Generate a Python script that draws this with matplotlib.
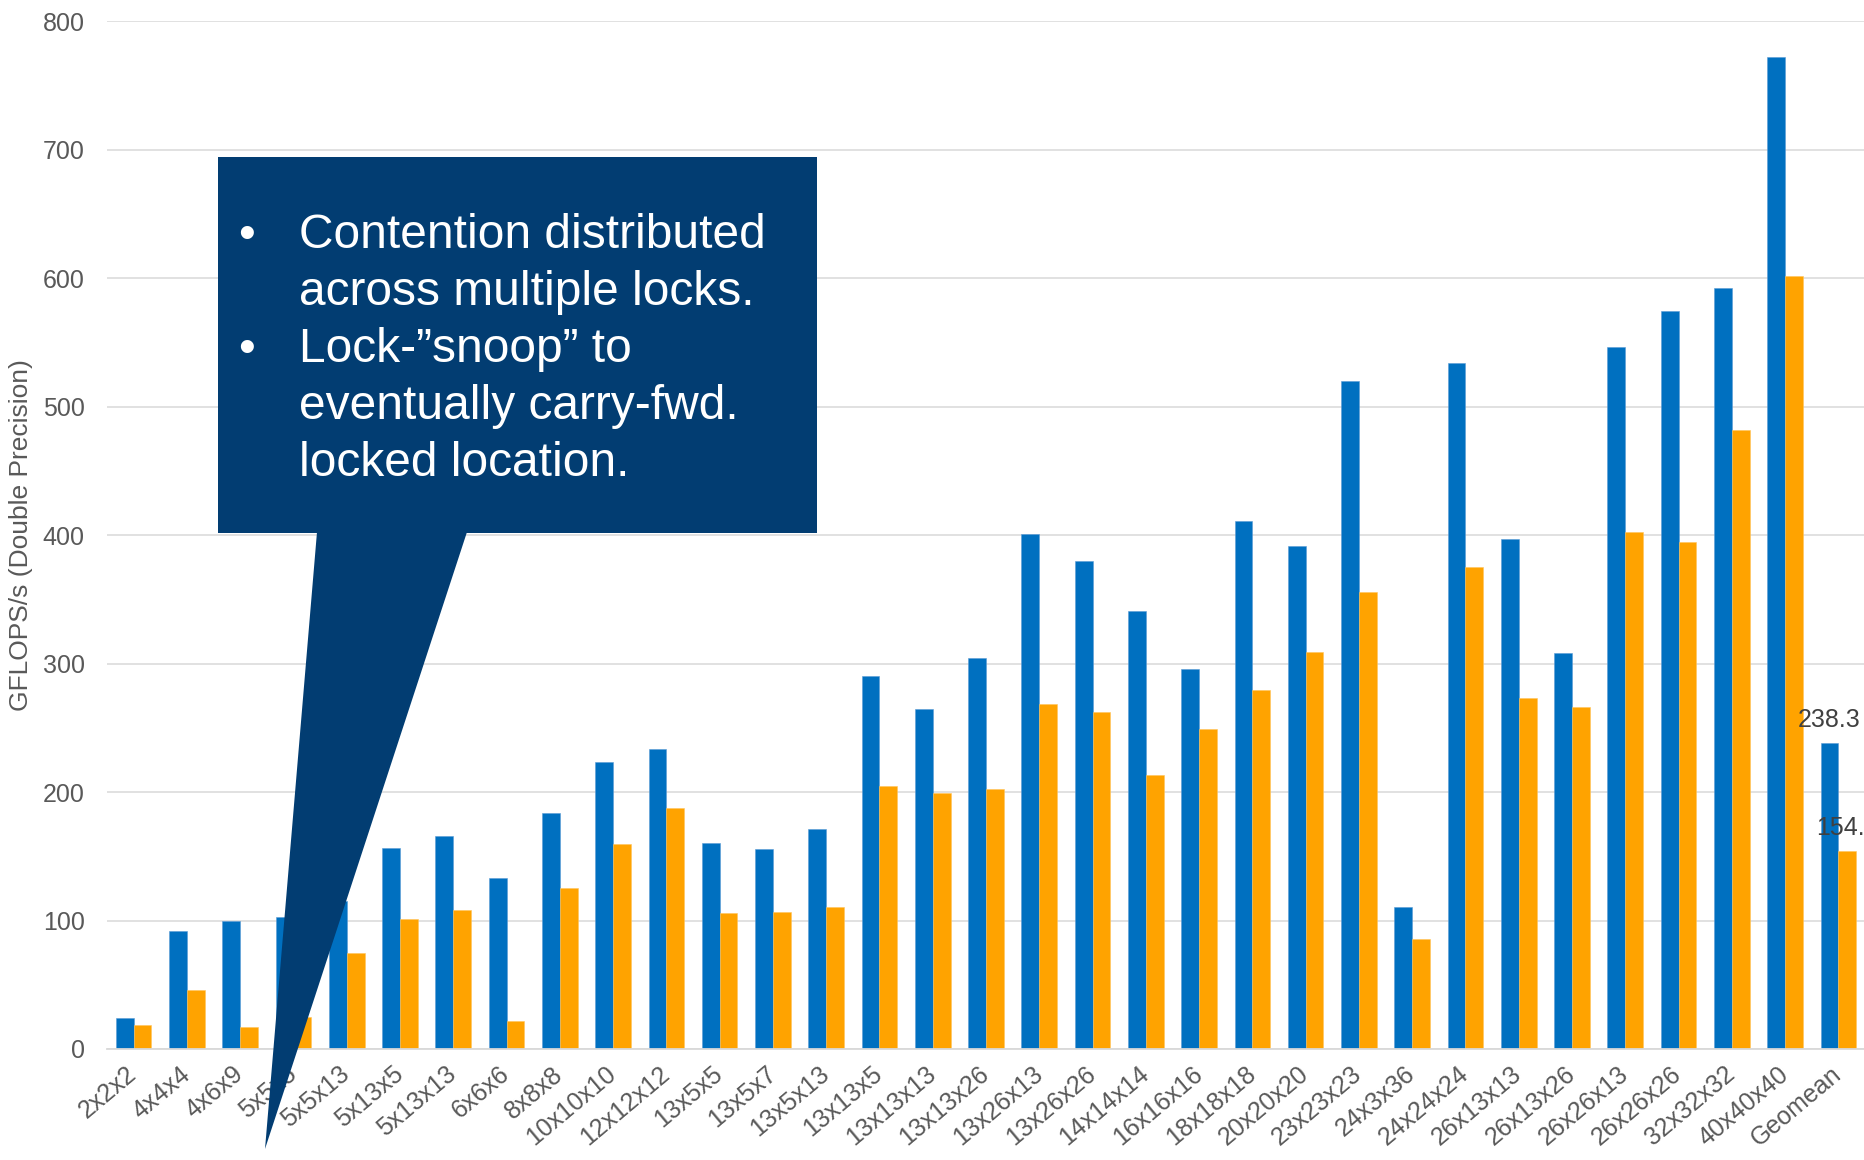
import matplotlib.pyplot as plt
import numpy as np
from matplotlib.patches import Polygon, Rectangle

plt.rcParams['font.family'] = ['Liberation Sans', 'DejaVu Sans']

# problem sizes (M x N x K) plus the geometric mean column
shapes = ['2x2x2', '4x4x4', '4x6x9', '5x5x5', '5x5x13', '5x13x5', '5x13x13',
          '6x6x6', '8x8x8', '10x10x10', '12x12x12', '13x5x5', '13x5x7',
          '13x5x13', '13x13x5', '13x13x13', '13x13x26', '13x26x13',
          '13x26x26', '14x14x14', '16x16x16', '18x18x18', '20x20x20',
          '23x23x23', '24x3x36', '24x24x24', '26x13x13', '26x13x26',
          '26x26x13', '26x26x26', '32x32x32', '40x40x40', 'Geomean']

gflops_blue = [24.4, 91.9, 99.7, 102.6, 115.0, 156.6, 165.7, 133.5, 183.4,
               223.4, 233.4, 160.3, 155.5, 171.1, 290.0, 264.9, 304.3, 400.6,
               379.7, 340.7, 295.5, 411.3, 391.7, 520.4, 110.9, 534.0, 397.4,
               308.3, 546.6, 574.7, 592.1, 772.1, 238.3]

gflops_orange = [18.4, 45.7, 17.1, 25.0, 75.1, 101.0, 108.3, 22.1, 125.2,
                 159.3, 187.3, 105.6, 106.8, 110.3, 204.5, 199.4, 202.5, 268.7,
                 262.0, 213.1, 249.4, 279.2, 309.4, 355.8, 85.7, 375.5, 273.6,
                 266.0, 402.5, 394.7, 481.6, 602.1, 154.0]

labelled = ['Geomean']

W, H = 1865, 1160
fig = plt.figure(figsize=(W / 100, H / 100), dpi=100)
ax = fig.add_axes([107 / W, 1 - 1049 / H, 1 - 107 / W, (1049 - 21.4) / H])

x = np.arange(len(shapes))
w = 0.334
ax.bar(x - w / 2, gflops_blue, w, color='#0070C0', edgecolor='#5B9BD5',
       linewidth=0.4, zorder=2)
ax.bar(x + w / 2, gflops_orange, w, color='#FFA300', edgecolor='#FFC55C',
       linewidth=0.4, zorder=2)

for i, name in enumerate(shapes):
    if name in labelled:
        for xx, v in ((x[i] - w / 2, gflops_blue[i]), (x[i] + w / 2, gflops_orange[i])):
            ax.annotate(f'{v:.1f}', (xx, v), xytext=(0, 8),
                        textcoords='offset points', ha='center', va='bottom',
                        fontsize=18, color='#404040', annotation_clip=False)

ax.set_xlim(-0.5, len(shapes) - 0.5)
ax.set_ylim(0, 800)
ax.set_yticks(np.arange(0, 801, 100))
ax.grid(axis='y', color='#D9D9D9', linewidth=1.1, zorder=0)
ax.set_axisbelow(True)
for side in ['top', 'right', 'left']:
    ax.spines[side].set_visible(False)
ax.spines['bottom'].set_color('#D9D9D9')
ax.spines['bottom'].set_linewidth(1.3)

ax.set_xticks(x)
ax.set_xticklabels(shapes, rotation=40, ha='right', va='center',
                   rotation_mode='anchor')
ax.tick_params(axis='x', length=0, pad=16, labelsize=18, labelcolor='#595959')
ax.tick_params(axis='y', length=0, pad=16, labelsize=18, labelcolor='#595959')

fig.text(21 / W, 1 - 535 / H, 'GFLOPS/s (Double Precision)', rotation=90,
         ha='center', va='center', fontsize=19, color='#595959')


# speech-bubble callout drawn in figure pixels
def fxy(px, py):
    return (px / W, 1 - py / H)


callout = '#023D72'
fig.add_artist(Rectangle(fxy(218, 533), (817 - 218) / W, (533 - 157) / H,
                         transform=fig.transFigure, facecolor=callout,
                         edgecolor='none', zorder=5))
fig.add_artist(Polygon([fxy(317, 532), fxy(467, 532), fxy(265, 1149)],
                       closed=True, transform=fig.transFigure,
                       facecolor=callout, edgecolor='none', zorder=5))

lines = ['Contention distributed', 'across multiple locks.',
         'Lock-\u201dsnoop\u201d to', 'eventually carry-fwd.',
         'locked location.']
baselines = [248, 305, 362, 419, 476]
for txt, by in zip(lines, baselines):
    fig.text(*fxy(299, by), txt, ha='left', va='baseline', fontsize=34.5,
             color='white', zorder=6)
for by in (baselines[0], baselines[2]):
    fig.text(*fxy(246, by), '\u2022', ha='center', va='baseline',
             fontsize=34.5, color='white', zorder=6)

fig.savefig('out.png', dpi=100)
